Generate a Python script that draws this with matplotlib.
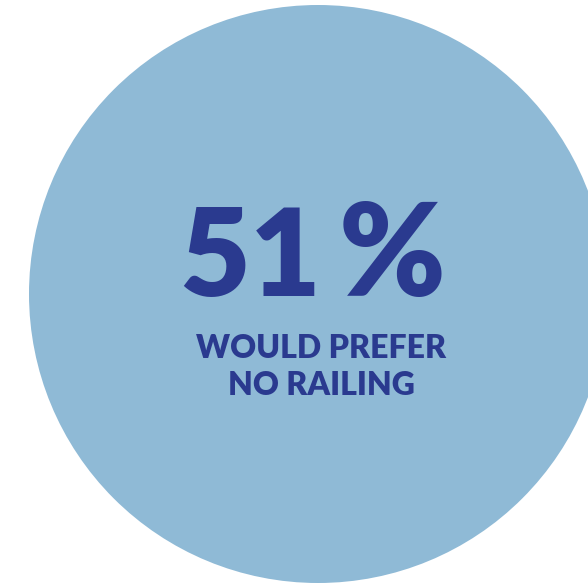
import matplotlib.pyplot as plt
from matplotlib.patches import Circle

# dati
share = 51
label_lines = ["WOULD PREFER", "NO RAILING"]

circle_color = "#8fbad6"
text_color = "#2a3a8f"

fig = plt.figure(figsize=(5.88, 5.85), dpi=100)
ax = fig.add_axes([0, 0, 1, 1])
ax.set_xlim(0, 588)
ax.set_ylim(585, 0)
ax.set_aspect("equal")
ax.axis("off")

# cerchio (tagliato a destra)
ax.add_patch(Circle((318, 294), 289, color=circle_color, lw=0))

# percentuale: numero e simbolo separati, come nel riferimento
ax.text(250, 296, str(share), ha="center", va="baseline",
        fontsize=88, fontweight="heavy", family=["Lato", "DejaVu Sans"],
        color=text_color)
ax.text(392, 296, "%", ha="center", va="baseline",
        fontsize=92, fontweight="heavy", family=["Lato", "DejaVu Sans"],
        color=text_color)

# etichetta
y = 358
for line in label_lines:
    ax.text(321, y, line, ha="center", va="baseline",
            fontsize=23, fontweight="heavy", family=["Lato", "DejaVu Sans"],
            color=text_color)
    y += 37

fig.savefig("out.png", dpi=100)
